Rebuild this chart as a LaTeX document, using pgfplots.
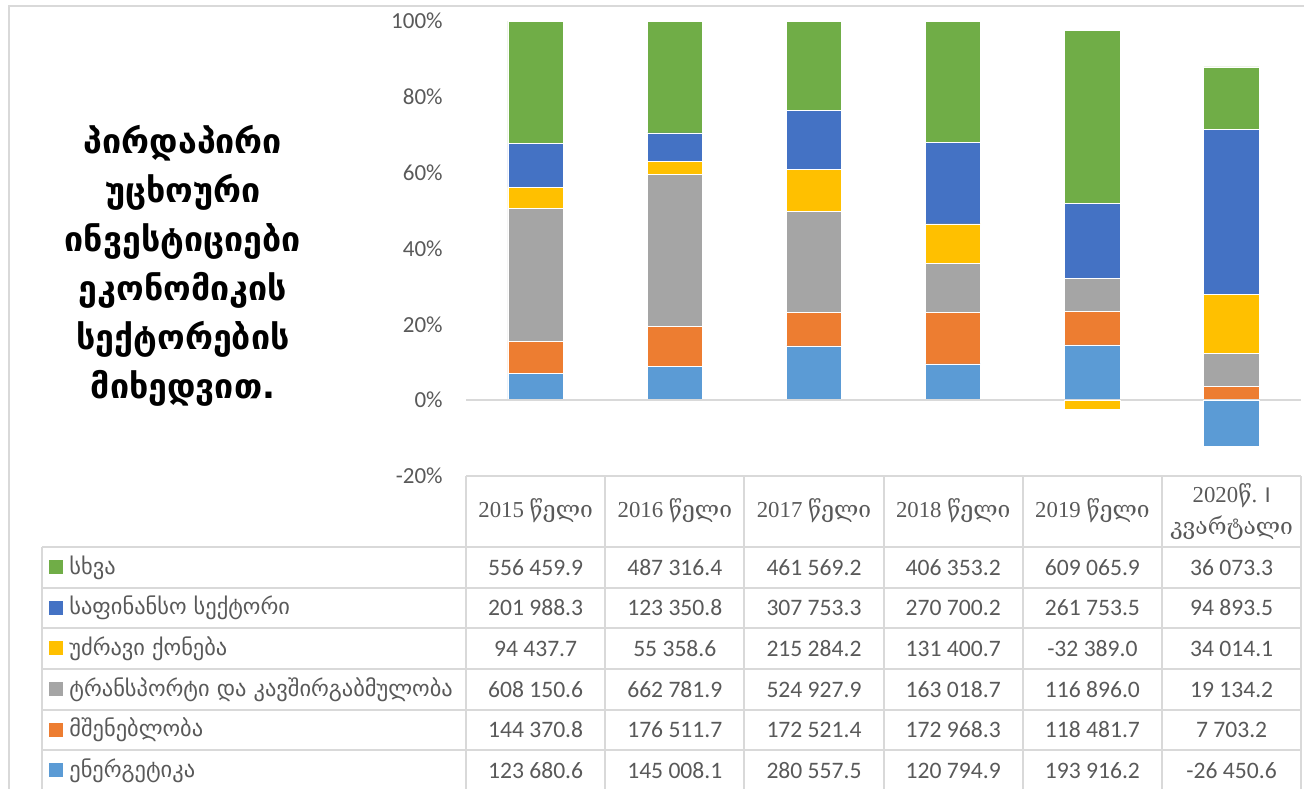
\documentclass[border=0pt]{standalone}
\usepackage{pgfplots}
\pgfplotsset{compat=1.18}
\usepackage{fontspec}
\setmainfont{Carlito}
\newfontfamily\geo{DejaVu Sans}
\newfontfamily\geoserif{DejaVu Serif}
\newfontfamily\lserif{Liberation Serif}
\definecolor{cEn}{HTML}{5B9BD5}
\definecolor{cCo}{HTML}{ED7D31}
\definecolor{cTr}{HTML}{A5A5A5}
\definecolor{cRe}{HTML}{FFC000}
\definecolor{cFi}{HTML}{4472C4}
\definecolor{cOt}{HTML}{70AD47}
\definecolor{txt}{HTML}{595959}
\definecolor{gridc}{HTML}{D9D9D9}
\begin{document}
\begin{tikzpicture}
\begin{axis}[at={(233pt,-238pt)}, anchor=south west, scale only axis,
  width=417.5pt, height=227.5pt,
  xmin=-0.5, xmax=5.5, ymin=-20, ymax=100,
  ybar stacked, bar width=27.65pt,
  axis line style={draw=none}, xtick=\empty,
  ytick={-20,0,20,40,60,80,100}, major tick length=0pt,
  yticklabel={\pgfmathprintnumber{\tick}\%},
  /pgf/number format/assume math mode=true,
  yticklabel style={font=\fontsize{11.5}{13}\selectfont, text=txt, anchor=east, inner sep=0pt, xshift=-11.5pt},
  clip=false]
\draw[gridc, line width=1pt] (axis cs:-0.5,0) -- (axis cs:5.5,0);
\addplot[fill=cEn, draw=white, line width=0.4pt] coordinates {(0,7.153) (1,8.787) (2,14.295) (3,9.547) (4,14.553) (5,0)};
\addplot[fill=cCo, draw=white, line width=0.4pt] coordinates {(0,8.350) (1,10.696) (2,8.790) (3,13.671) (4,8.892) (5,3.529)};
\addplot[fill=cTr, draw=white, line width=0.4pt] coordinates {(0,35.172) (1,40.161) (2,26.746) (3,12.884) (4,8.773) (5,8.766)};
\addplot[fill=cRe, draw=white, line width=0.4pt] coordinates {(0,5.462) (1,3.354) (2,10.969) (3,10.385) (4,0) (5,15.584)};
\addplot[fill=cFi, draw=white, line width=0.4pt] coordinates {(0,11.682) (1,7.474) (2,15.681) (3,21.395) (4,19.644) (5,43.476)};
\addplot[fill=cOt, draw=white, line width=0.4pt] coordinates {(0,32.182) (1,29.528) (2,23.518) (3,32.117) (4,45.708) (5,16.527)};
\end{axis}
\begin{axis}[at={(233pt,-238pt)}, anchor=south west, scale only axis,
  width=417.5pt, height=227.5pt,
  xmin=-0.5, xmax=5.5, ymin=-20, ymax=100, hide axis,
  ybar, bar shift=0pt, bar width=27.65pt, clip=false]
\addplot[fill=cEn, draw=white, line width=0.4pt] coordinates {(5,-12.118)};
\addplot[fill=cRe, draw=white, line width=0.4pt] coordinates {(4,-2.431)};
\end{axis}
\begin{scope}[x=0.5pt,y=-0.5pt]
% outer frame
\draw[gridc, line width=1pt] (9,790) -- (9,6) -- (1310,6);
% table grid
\draw[gridc, line width=1pt] (466,476) -- (1301,476);
\foreach \y in {547,588,628,669,710,750} \draw[gridc, line width=1pt] (42,\y) -- (1301,\y);
\draw[gridc, line width=1pt] (42,547) -- (42,790);
\foreach \x in {466,605.2,744.4,883.6,1022.8,1162,1301} \draw[gridc, line width=1pt] (\x,476) -- (\x,790);
% header
\begin{scope}[every node/.style={text=txt, font=\lserif\fontsize{11.4}{16}\selectfont}]
\node at (535.6,511) {2015 {\geoserif წელი}};
\node at (674.8,511) {2016 {\geoserif წელი}};
\node at (814.0,511) {2017 {\geoserif წელი}};
\node at (953.2,511) {2018 {\geoserif წელი}};
\node at (1092.4,511) {2019 {\geoserif წელი}};
\node[align=center] at (1231.6,512) {2020{\geoserif წ}. {\rmfamily I}\\{\geoserif კვარტალი}};
\end{scope}
% legend column
\begin{scope}[every node/.style={text=txt, anchor=west, inner sep=0pt, font=\geo\fontsize{11.2}{12}\selectfont}]
\fill[cOt] (49,560) rectangle (63,574); \node at (69,567.5) {სხვა};
\fill[cFi] (49,601) rectangle (63,615); \node at (69,608) {საფინანსო სექტორი};
\fill[cRe] (49,641) rectangle (63,655); \node at (69,648.5) {უძრავი ქონება};
\fill[cTr] (49,682) rectangle (63,696); \node at (69,689.5) {ტრანსპორტი და კავშირგაბმულობა};
\fill[cCo] (49,723) rectangle (63,737); \node at (69,730) {მშენებლობა};
\fill[cEn] (49,763) rectangle (63,777); \node at (69,770.5) {ენერგეტიკა};
\end{scope}
% numbers
\begin{scope}[every node/.style={text=txt, font=\fontsize{11.8}{13}\selectfont}]
\foreach \c/\a/\b/\cc/\d/\e/\f [count=\i from 0] in {
 556 459.9/201 988.3/94 437.7/608 150.6/144 370.8/123 680.6,
 487 316.4/123 350.8/55 358.6/662 781.9/176 511.7/145 008.1,
 461 569.2/307 753.3/215 284.2/524 927.9/172 521.4/280 557.5,
 406 353.2/270 700.2/131 400.7/163 018.7/172 968.3/120 794.9,
 609 065.9/261 753.5/-32 389.0/116 896.0/118 481.7/193 916.2,
 36 073.3/94 893.5/34 014.1/19 134.2/7 703.2/-26 450.6}{
 \pgfmathsetmacro\xc{535.6+139.2*\i}
 \node at (\xc,567.5) {\c};
 \node at (\xc,608) {\a};
 \node at (\xc,648.5) {\b};
 \node at (\xc,689.5) {\cc};
 \node at (\xc,730) {\d};
 \node at (\xc,770.5) {\e};
}
\end{scope}
% title
\node[align=center, font=\geo\bfseries\fontsize{17}{24.5}\selectfont] at (183,266) {პირდაპირი\\უცხოური\\ინვესტიციები\\ეკონომიკის\\სექტორების\\მიხედვით.};
\pgfresetboundingbox
\path[use as bounding box] (0,0) rectangle (1304,788);
\end{scope}
\end{tikzpicture}
\end{document}
